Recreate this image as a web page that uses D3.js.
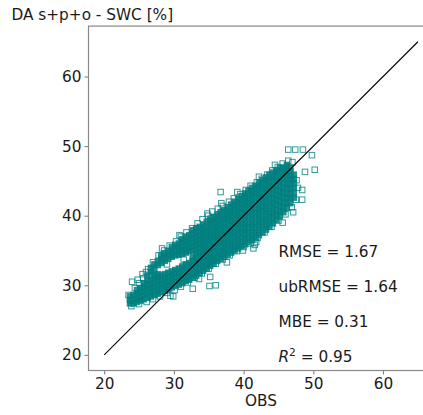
<!DOCTYPE html>
<html>
<head>
<meta charset="utf-8">
<script src="https://cdn.jsdelivr.net/npm/d3@7"></script>
<style>
  html, body { margin: 0; padding: 0; background: #fff; }
  svg { display: block; font-family: "DejaVu Sans", sans-serif; }
</style>
</head>
<body>
<svg id="chart" width="423" height="415"></svg>
<script>
// ===================================
// Data
// ===================================

const TITLE = 'DA s+p+o - SWC [%]';
const X_LABEL = 'OBS';
const TICKS = [20, 30, 40, 50, 60];
const AXIS_DOMAIN = [17.75, 67.25];
const ONE_TO_ONE = [[20, 20], [65, 65]];

const STAT_NAMES = ['RMSE', 'ubRMSE', 'MBE', 'R2'];
const STAT_VALUES = ['1.67', '1.64', '0.31', '0.95'];
const STAT_ROWS = [35, 30, 25, 20];   // y position (data units)
const STAT_COLUMN = 45;               // x position (data units)

// dense core of the cloud, one entry per OBS column: [obs, [da values]]
const denseColumns = [
    [23.7, [27.4, 27.9, 28.4]],
    [24.2, [27.4, 28.0, 28.6]],
    [24.7, [27.6, 28.2, 28.8, 29.3]],
    [25.2, [27.8, 28.4, 29.0, 29.6]],
    [25.7, [28.0, 28.6, 29.2, 29.8, 30.3]],
    [26.2, [28.2, 28.8, 29.4, 30.0, 30.6, 31.4]],
    [26.7, [28.4, 29.0, 29.6, 30.2, 30.8, 31.9, 32.5]],
    [27.2, [28.6, 29.2, 29.8, 30.4, 31.0, 31.5, 32.4, 33.0]],
    [27.7, [28.8, 29.4, 30.0, 30.6, 31.2, 31.6, 32.9, 33.5]],
    [28.2, [29.0, 29.6, 30.2, 30.8, 31.4, 33.2, 33.8, 34.3]],
    [28.7, [29.2, 29.8, 30.4, 31.0, 31.6, 33.5, 34.0, 34.6]],
    [29.2, [29.4, 30.0, 30.6, 31.2, 31.8, 33.8, 34.3, 34.9]],
    [29.7, [29.7, 30.3, 30.9, 31.5, 32.0, 34.1, 34.6, 35.1, 35.5]],
    [30.2, [29.9, 30.5, 31.1, 31.7, 32.2, 34.3, 34.8, 35.3, 35.8]],
    [30.7, [30.1, 30.7, 31.3, 31.9, 32.4, 34.4, 34.9, 35.5, 36.0]],
    [31.2, [30.3, 30.9, 31.5, 32.1, 32.7, 34.5, 35.0, 35.6, 36.2, 36.6]],
    [31.7, [30.6, 31.2, 31.8, 32.4, 33.0, 34.7, 35.2, 35.8, 36.4, 37.0]],
    [32.2, [30.8, 31.4, 32.0, 32.6, 33.2, 34.9, 35.4, 36.0, 36.6, 37.2]],
    [32.7, [31.1, 31.7, 32.3, 32.9, 33.5, 34.0, 35.0, 35.6, 36.2, 36.8, 37.4, 37.9]],
    [33.2, [31.4, 32.0, 32.6, 33.2, 33.8, 34.4, 35.2, 35.8, 36.4, 37.0, 37.6, 38.2]],
    [33.7, [31.8, 32.4, 33.0, 33.6, 34.2, 34.8, 35.4, 36.0, 36.6, 37.2, 37.8, 38.4]],
    [34.2, [32.1, 32.7, 33.3, 33.9, 34.5, 35.1, 35.7, 36.3, 36.9, 37.5, 38.1, 38.7]],
    [34.7, [32.4, 33.0, 33.6, 34.2, 34.8, 35.4, 36.0, 36.6, 37.2, 37.8, 38.4, 39.1]],
    [35.2, [32.8, 33.4, 34.0, 34.6, 35.2, 35.8, 36.4, 37.0, 37.6, 38.2, 38.8, 39.4]],
    [35.7, [33.1, 33.7, 34.3, 34.9, 35.5, 36.1, 36.7, 37.3, 37.9, 38.5, 39.1, 39.8]],
    [36.2, [33.5, 34.1, 34.7, 35.3, 35.9, 36.5, 37.1, 37.7, 38.3, 38.9, 39.5, 40.1]],
    [36.7, [33.8, 34.4, 35.0, 35.6, 36.2, 36.8, 37.4, 38.0, 38.7, 39.3, 39.9, 40.5]],
    [37.2, [34.1, 34.7, 35.3, 35.9, 36.6, 37.2, 37.8, 38.4, 39.1, 39.7, 40.3, 40.8]],
    [37.7, [34.4, 35.0, 35.7, 36.3, 36.9, 37.6, 38.2, 38.8, 39.5, 40.1, 40.7, 41.2]],
    [38.2, [34.7, 35.3, 36.0, 36.6, 37.3, 37.9, 38.6, 39.2, 39.9, 40.5, 41.1, 41.6]],
    [38.7, [35.0, 35.6, 36.3, 37.0, 37.6, 38.3, 38.9, 39.6, 40.2, 40.9, 41.5, 42.0]],
    [39.2, [35.3, 35.9, 36.6, 37.3, 38.0, 38.7, 39.3, 40.0, 40.6, 41.3, 41.9, 42.4]],
    [39.7, [35.6, 36.2, 36.9, 37.6, 38.3, 39.0, 39.7, 40.4, 41.0, 41.7, 42.3, 42.8]],
    [40.2, [35.9, 36.6, 37.3, 38.0, 38.7, 39.4, 40.1, 40.8, 41.4, 42.1, 42.7, 43.2]],
    [40.7, [36.2, 36.9, 37.6, 38.3, 39.0, 39.8, 40.5, 41.2, 41.8, 42.5, 43.1, 43.6]],
    [41.2, [36.5, 37.2, 37.9, 38.7, 39.4, 40.1, 40.9, 41.6, 42.2, 42.9, 43.5, 44.0]],
    [41.7, [36.8, 37.5, 38.3, 39.0, 39.8, 40.5, 41.2, 42.0, 42.6, 43.3, 43.9, 44.3]],
    [42.2, [37.2, 37.9, 38.7, 39.4, 40.2, 40.9, 41.6, 42.4, 43.0, 43.7, 44.3, 44.7]],
    [42.7, [37.6, 38.3, 39.1, 39.8, 40.6, 41.3, 42.0, 42.8, 43.4, 44.1, 44.7, 45.1]],
    [43.2, [38.0, 38.7, 39.5, 40.2, 41.0, 41.7, 42.4, 43.2, 43.8, 44.5, 45.1, 45.5]],
    [43.7, [38.4, 39.1, 39.9, 40.6, 41.4, 42.1, 42.8, 43.6, 44.2, 44.9, 45.5, 45.9]],
    [44.2, [38.9, 39.6, 40.3, 41.1, 41.8, 42.5, 43.2, 44.0, 44.6, 45.3, 45.8, 46.2]],
    [44.7, [39.4, 40.1, 40.8, 41.6, 42.3, 43.0, 43.7, 44.4, 45.0, 45.6, 46.1, 46.5]],
    [45.2, [39.9, 40.6, 41.4, 42.1, 42.8, 43.5, 44.2, 44.9, 45.5, 46.0, 46.5, 46.9]],
    [45.7, [40.5, 41.2, 41.9, 42.6, 43.3, 44.0, 44.7, 45.4, 45.9, 46.4, 46.9]],
    [46.2, [41.1, 41.8, 42.5, 43.2, 43.9, 44.6, 45.3, 45.9, 46.4, 46.9, 47.3]],
    [46.7, [41.8, 42.5, 43.2, 43.9, 44.6, 45.2, 45.8, 46.4, 46.9]],
    [47.2, [42.6, 43.3, 44.0, 44.7, 45.3, 45.9]]
];

// scattered samples around the edges of the cloud: [obs, da]
const edgeSamples = [
    [25.0, 30.3], [25.6, 31.0], [26.3, 32.3], [27.0, 33.3], [27.8, 34.3], [28.6, 35.0],
    [29.4, 35.7], [30.3, 36.3], [31.0, 37.0], [31.8, 37.6], [32.6, 38.2], [33.4, 38.9],
    [34.1, 39.5], [34.9, 40.0], [35.5, 40.6], [36.3, 41.0], [37.0, 41.4], [37.9, 42.0],
    [38.6, 42.5], [39.5, 43.1], [40.3, 43.7], [41.0, 44.3], [41.9, 44.8], [42.6, 45.3],
    [43.4, 45.9], [44.1, 46.5], [44.9, 47.0], [45.6, 47.5], [46.4, 47.9], [47.0, 47.7],
    [23.9, 27.0], [25.0, 27.3], [26.1, 27.6], [27.0, 28.0], [28.0, 28.4], [29.0, 28.9],
    [30.1, 29.3], [31.0, 29.8], [32.0, 30.4], [33.0, 31.1], [34.0, 31.7], [35.0, 32.4],
    [36.0, 33.1], [37.0, 33.7], [38.0, 34.3], [39.0, 34.9], [40.0, 35.5], [41.0, 36.0],
    [42.0, 36.8], [43.0, 37.6], [44.0, 38.4], [45.0, 39.3], [46.0, 40.2], [46.9, 41.2],
    [47.5, 42.3], [47.6, 45.1], [47.8, 44.0], [26.0, 31.9], [28.3, 35.3], [30.8, 37.2],
    [36.8, 41.8], [39.1, 43.4], [42.2, 45.6], [44.5, 47.3], [29.5, 28.5], [33.6, 30.9],
    [37.6, 33.3], [41.8, 36.2], [45.6, 39.0], [24.4, 29.6], [23.5, 28.6], [24.8, 30.8],
    [25.5, 31.6], [26.8, 31.4], [29.0, 33.0], [31.4, 33.7]
];

// isolated outliers: [obs, da]
const outlierSamples = [
    [24.0, 30.5], [29.9, 28.4], [32.7, 29.5], [35.1, 29.9], [36.0, 30.0], [35.2, 31.2],
    [39.9, 35.0], [41.4, 35.3], [41.6, 35.8], [36.7, 43.4], [46.4, 49.5], [47.4, 49.5],
    [48.5, 49.5], [49.8, 48.7], [48.8, 46.3], [50.2, 46.6], [48.4, 43.7], [48.4, 42.3],
    [47.1, 40.5], [34.8, 40.3], [35.3, 39.6]
];

// ===================================
// Layout
// ===================================

const width = 423;
const height = 415;
const MARKER = 5.5;
const TEAL = '#008080';
const FONT_SIZE = '15.3px';

const x = d3.scaleLinear().domain(AXIS_DOMAIN).range([88.5, 433.6]);
const y = d3.scaleLinear().domain(AXIS_DOMAIN).range([370.5, 26.1]);

const svg = d3.select('#chart');
svg.append('rect').attr('width', width).attr('height', height).attr('fill', '#fff');

// ===================================
// Points
// ===================================

const densePoints = denseColumns.flatMap(([o, list]) => list.map(d => [o, d]));

function drawSquares(data, fillOpacity) {
    svg.append('g')
        .selectAll('rect')
        .data(data)
        .join('rect')
        .attr('x', d => x(d[0]) - MARKER / 2)
        .attr('y', d => y(d[1]) - MARKER / 2)
        .attr('width', MARKER)
        .attr('height', MARKER)
        .attr('fill', TEAL)
        .attr('fill-opacity', fillOpacity)
        .attr('stroke', TEAL)
        .attr('stroke-opacity', 0.8)
        .attr('stroke-width', 1);
}

drawSquares(edgeSamples, 0);
drawSquares(outlierSamples, 0);
drawSquares(densePoints, 0.85);

// 1:1 line
svg.append('path')
    .datum(ONE_TO_ONE)
    .attr('d', d3.line().x(d => x(d[0])).y(d => y(d[1])))
    .attr('fill', 'none')
    .attr('stroke', '#000')
    .attr('stroke-width', 1.1);

// ===================================
// Axes
// ===================================

const xAxis = svg.append('g')
    .attr('transform', `translate(0,${y.range()[0]})`)
    .call(d3.axisBottom(x).tickValues(TICKS).tickSize(4).tickPadding(3.5).tickSizeOuter(0));

const yAxis = svg.append('g')
    .attr('transform', `translate(${x.range()[0]},0)`)
    .call(d3.axisLeft(y).tickValues(TICKS).tickSize(4).tickPadding(3).tickSizeOuter(0));

[xAxis, yAxis].forEach(g => {
    g.select('.domain').remove();
    g.selectAll('.tick line').attr('stroke', '#777');
    g.selectAll('.tick text')
        .attr('fill', '#1a1a1a')
        .style('font-size', FONT_SIZE)
        .style('font-family', '"DejaVu Sans", sans-serif');
});

// spines (right spine falls outside the picture)
svg.append('rect')
    .attr('x', x.range()[0])
    .attr('y', y.range()[1])
    .attr('width', x.range()[1] - x.range()[0])
    .attr('height', y.range()[0] - y.range()[1])
    .attr('fill', 'none')
    .attr('stroke', '#888')
    .attr('stroke-width', 1.2);

// ===================================
// Labels
// ===================================

svg.append('text')
    .attr('x', 11.5)
    .attr('y', 20)
    .attr('fill', '#1a1a1a')
    .style('font-size', FONT_SIZE)
    .text(TITLE);

svg.append('text')
    .attr('x', (x.range()[0] + x.range()[1]) / 2)
    .attr('y', 406)
    .attr('text-anchor', 'middle')
    .attr('fill', '#1a1a1a')
    .style('font-size', FONT_SIZE)
    .text(X_LABEL);

STAT_NAMES.forEach((name, i) => {
    const t = svg.append('text')
        .attr('x', x(STAT_COLUMN))
        .attr('y', y(STAT_ROWS[i]) + 7)
        .attr('fill', '#1a1a1a')
        .style('font-size', FONT_SIZE);
    if (name === 'R2') {
        t.append('tspan').style('font-style', 'italic').text('R');
        t.append('tspan').attr('dy', -6).style('font-size', '10.7px').text('2');
        t.append('tspan').attr('dy', 6).text(` = ${STAT_VALUES[i]}`);
    } else {
        t.text(`${name} = ${STAT_VALUES[i]}`);
    }
});
</script>
</body>
</html>
